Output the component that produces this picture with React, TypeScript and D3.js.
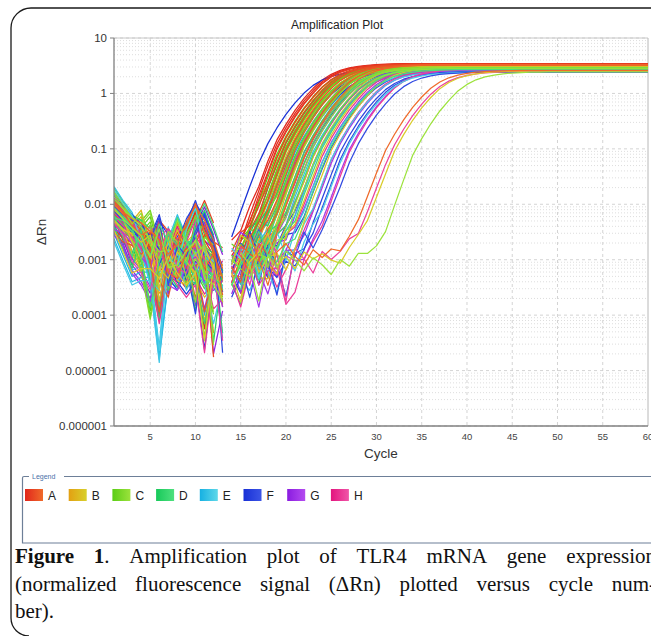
import React, { useEffect, useRef } from 'react';
import * as d3 from 'd3';

// ---------------- data ----------------
const rowNames = ['A', 'B', 'C', 'D', 'E', 'F', 'G', 'H'];
const rowColorsA: [string, string] = ['#e1261c', '#ef6a2a'];
const rowColorsB: [string, string] = ['#e3a012', '#d8d02c'];
const rowColorsC: [string, string] = ['#5acd16', '#9ce23c'];
const rowColorsD: [string, string] = ['#17c95a', '#4fe07e'];
const rowColorsE: [string, string] = ['#16b0e2', '#5fd8e9'];
const rowColorsF: [string, string] = ['#1830d6', '#3c55e6'];
const rowColorsG: [string, string] = ['#8a1be0', '#b44cf0'];
const rowColorsH: [string, string] = ['#e3147e', '#f055a8'];

// cycle at which each well crosses dRn = 0.1 (null = no amplification drawn)
const ctA = [18.6, 18.8, 19.0, 19.1, 19.4, 19.7, 20.1, 20.5, 21.1, 21.7, 22.4, 30.8];
const ctB = [19.4, 19.9, 20.3, 20.8, 21.3, 21.9, 22.6, 23.3, 24.1, 25.0, 31.8, null];
const ctC = [19.2, 19.5, 19.8, 20.1, 20.5, 20.9, 21.3, 21.7, 22.2, 22.8, 23.5, 34.0];
const ctD = [19.6, 20.0, 20.4, 20.8, 21.2, 21.6, 22.0, 22.5, 23.1, 23.8, 24.6, null];
const ctE = [20.2, 20.9, 21.5, 22.1, 22.8, 23.5, 24.3, 25.2, 26.3, null, null, null];
const ctF = [17.4, 20.5, 21.4, 22.4, 23.4, 24.6, 25.8, 26.2, 27.3, null, null, null];
const ctG = [20.6, 21.3, 22.0, 22.7, 23.5, 24.4, 25.4, 26.8, null, null, null, null];
const ctH = [19.8, 20.6, 21.4, 22.3, 23.2, 24.2, 25.3, 27.0, 31.4, null, null, null];

// plateau dRn of each well
const platA = [3.45, 3.4, 3.38, 3.42, 3.35, 3.3, 3.36, 3.28, 3.32, 3.25, 3.3, 2.6];
const platB = [3.25, 3.2, 3.15, 3.22, 3.1, 3.18, 3.05, 3.12, 3.0, 2.95, 2.55, 3.0];
const platC = [3.1, 3.05, 3.0, 3.08, 2.95, 3.02, 2.9, 2.98, 2.85, 2.92, 2.8, 2.45];
const platD = [3.0, 2.95, 2.9, 2.98, 2.85, 2.92, 2.8, 2.88, 2.75, 2.82, 2.7, 2.7];
const platE = [2.6, 2.55, 2.5, 2.58, 2.45, 2.52, 2.45, 2.5, 2.42, 2.5, 2.5, 2.5];
const platF = [2.62, 2.55, 2.5, 2.58, 2.45, 2.52, 2.45, 2.5, 2.42, 2.5, 2.5, 2.5];
const platG = [2.8, 2.75, 2.7, 2.78, 2.65, 2.72, 2.6, 2.68, 2.6, 2.6, 2.6, 2.6];
const platH = [2.9, 2.85, 2.8, 2.88, 2.75, 2.82, 2.7, 2.78, 2.5, 2.6, 2.6, 2.6];

// amplification shape: dRn at cycles -8..17 from the 0.1 crossing
const profileStart = -8;
const profileValues = [0.00002, 0.00006, 0.00018, 0.00052, 0.0015, 0.0042, 0.0125, 0.036, 0.1, 0.2, 0.37, 0.63, 0.98, 1.45, 1.9, 2.3, 2.6, 2.8, 2.95, 3.05, 3.1, 3.15, 3.18, 3.2, 3.2, 3.2];
const profilePlateau = 3.2;

// baseline noise patterns, cycles 1..30, in units of 1e-4 dRn (negative = below zero, not drawn)
const noiseP0 = [95, 60, 42, 30, 12, 40, 9, 7, 30, 75, 12, 8, -15, 14, 9, 22, 4, 12, 28, 9, 3, 11, 18, 8, 10, 7, 12, 9, 6, 8];
const noiseP1 = [70, 48, 18, 9, 22, 2.5, 3, 16, 10, 28, 60, 18, 5, -15, 6, 11, 30, 8, 2, 12, 9, 25, 7, 10, 13, 8, 6, 11, 9, 7];
const noiseP2 = [150, 85, 50, 38, 60, 15, 30, 6, 5, 18, 9, 6, 0.3, -15, 12, 3, 15, 24, 11, 1.5, 14, 9, 5, 12, 8, 10, 14, 7, 9, 11];
const noiseP3 = [55, 22, 10, 30, 6, 1.2, 9, 20, 35, 90, 28, 14, 2, -15, 15, 9, 2, 13, 8, 16, 11, 7, 12, 9, 6, 11, 8, 13, 10, 7];
const noiseP4 = [160, 90, 55, 20, 5, 0.2, 4, 12, 8, 5, 15, 6, -15, 7, 24, 18, 5, 9, 10, 1.5, 1.5, 8, 12, 6, 9, 12, 7, 10, 8, 9];
const noiseP5 = [80, 55, 45, 35, 20, 50, 28, 18, 4, 9, 5, 1, -15, 3, 8, 16, 12, 1.2, 14, 9, 20, 6, 9, 14, 10, 7, 11, 8, 12, 10];
const noiseP6 = [40, 25, 8, 5, 2.5, 12, 25, 16, 7, 40, 90, 35, 12, -15, 2.5, 10, 6, 20, 9, 15, 3, 11, 4, 9, 13, 10, 6, 9, 11, 8];
const noiseP7 = [100, 70, 35, 22, 8, 1, 5, 4, 12, 16, 6, 11, 4, -15, 10, 4, 14, 2, 1.5, 9, 13, 8, 11, 7, 10, 14, 9, 6, 10, 12];
const noiseP8 = [45, 30, 26, 18, 24, 6, 10, 5, 3, 5, 0.3, 7, -15, 5, 1.5, 8, 12, 26, 7, 10, 6, 12, 9, 11, 8, 6, 10, 12, 8, 9];
const noiseP9 = [130, 75, 38, 60, 16, 9, 13, 45, 18, 11, 16, 0.25, -15, 9, 6, 4, 10, 7, 13, 2, 16, 10, 6, 11, 9, 13, 8, 10, 7, 12];
const noiseP10 = [75, 52, 33, 9, 1.2, 8, 18, 50, 20, 6, 3, 5, -15, 3, 7, 12, 28, 10, 6, 11, 4, 1.3, 10, 13, 7, 9, 12, 8, 11, 9];
const noiseP11 = [90, 62, 48, 40, 28, 20, 11, 16, 42, 80, 45, 20, 6, -15, 4, 25, 9, 3, 12, 17, 10, 7, 13, 9, 12, 8, 10, 9, 11, 7];
const noiseP12 = [30, 12, 5, 6, 6, 4, 8, 9, 14, 6, 1, 5, -15, 6, 2, 9, 14, 11, 3, 5, 9, 12, 8, 6, 10, 11, 7, 12, 9, 10];
const noiseP13 = [110, 72, 50, 34, 20, 12, 22, 6, 9, 20, 12, 7, 1.5, -15, 11, 8, 13, 6, 1, 14, 7, 9, 12, 10, 7, 9, 13, 10, 8, 11];
const noiseP14 = [50, 44, 28, 16, 10, 38, 7, 4, 10, 1.5, 22, 16, -15, 8, 16, 9, 5, 1.2, 9, 12, 15, 8, 6, 12, 9, 7, 11, 9, 12, 8];
const noiseP15 = [85, 58, 36, 24, 30, 20, 8, 9, 16, 24, 5, 4, 3, -15, 9, 13, 2.5, 10, 15, 7, 11, 14, 9, 7, 12, 10, 8, 11, 9, 10];
const noiseScales = [1, 0.8, 1.3, 0.7, 1.15, 0.9];

const xTicks = [5, 10, 15, 20, 25, 30, 35, 40, 45, 50, 55, 60];
const yTicks = [0.000001, 0.00001, 0.0001, 0.001, 0.01, 0.1, 1, 10];
const yTickLabels = ['0.000001', '0.00001', '0.0001', '0.001', '0.01', '0.1', '1', '10'];

const captionLine1 = [
  [{ t: 'Figure', b: true }],
  [{ t: '1', b: true }, { t: '.', b: false }],
  [{ t: 'Amplification', b: false }],
  [{ t: 'plot', b: false }],
  [{ t: 'of', b: false }],
  [{ t: 'TLR4', b: false }],
  [{ t: 'mRNA', b: false }],
  [{ t: 'gene', b: false }],
  [{ t: 'expression', b: false }],
];
const captionLine2 = ['(normalized', 'fluorescence', 'signal', '(ΔRn)', 'plotted', 'versus', 'cycle', 'num-'].map((t) => [{ t, b: false }]);
const captionLine3 = [[{ t: 'ber).', b: false }]];

// ---------------- layout ----------------
const W = 651;
const H = 636;
const PL = 114, PR = 648, PT = 38, PB = 426;
const SANS = "'Liberation Sans', Arial, Helvetica, sans-serif";
const SERIF = "'Liberation Serif', 'Times New Roman', Times, serif";

const cycles = d3.range(1, 61);
const ctRows = [ctA, ctB, ctC, ctD, ctE, ctF, ctG, ctH];
const platRows = [platA, platB, platC, platD, platE, platF, platG, platH];
const colorRows = [rowColorsA, rowColorsB, rowColorsC, rowColorsD, rowColorsE, rowColorsF, rowColorsG, rowColorsH];
const noisePatterns = [noiseP0, noiseP1, noiseP2, noiseP3, noiseP4, noiseP5, noiseP6, noiseP7, noiseP8, noiseP9, noiseP10, noiseP11, noiseP12, noiseP13, noiseP14, noiseP15];

function amp(c: number, ct: number, plat: number) {
  const k = c - ct - profileStart;
  const n = profileValues.length;
  let v: number;
  if (k < 0) return 0;
  if (k >= n - 1) v = profileValues[n - 1];
  else {
    const i = Math.floor(k);
    const f = k - i;
    const a = Math.log10(profileValues[i]);
    const b = Math.log10(profileValues[i + 1]);
    v = Math.pow(10, a + (b - a) * f);
  }
  return (v * plat) / profilePlateau;
}

type Well = { id: string; color: string; values: { c: number; v: number }[] };

function buildWells(): Well[] {
  const wells: Well[] = [];
  let idx = 0;
  for (let col = 0; col < 12; col++) {
    for (let r = 0; r < 8; r++) {
      const ct = ctRows[r][col];
      if (ct == null) continue;
      const plat = platRows[r][col];
      const color = d3.interpolateRgb(colorRows[r][0], colorRows[r][1])(col / 11);
      const p1 = idx % 16;
      const k = Math.floor(idx / 16);
      const pA = noisePatterns[p1];
      const pB = noisePatterns[(p1 + k * 3) % 16];
      const pC = noisePatterns[(p1 + k * 7) % 16];
      const sc = noiseScales[k % noiseScales.length];
      const values = cycles.map((c) => {
        let nz = 0;
        if (c <= 30) {
          const src = c <= 6 ? pA : c <= 12 ? pB : pC;
          nz = src[c - 1] * sc * 1e-4;
        }
        return { c, v: amp(c, ct, plat) + nz };
      });
      wells.push({ id: rowNames[r] + (col + 1), color, values });
      idx++;
    }
  }
  return wells;
}

export default function App() {
  const capRef = useRef<SVGGElement>(null);
  const x = d3.scaleLinear().domain([1, 60]).range([PL, PR]);
  const y = d3.scaleLog().domain([1e-6, 10]).range([PB, PT]);
  const wells = buildWells();
  const line = d3
    .line<{ c: number; v: number }>()
    .defined((d) => d.v > 0)
    .x((d) => x(d.c))
    .y((d) => y(d.v));

  const minor: number[] = [];
  for (let e = -6; e < 1; e++) for (let m = 2; m <= 9; m++) minor.push(m * Math.pow(10, e));

  useEffect(() => {
    const g = d3.select(capRef.current);
    g.selectAll('*').remove();
    const lines = [captionLine1, captionLine2, captionLine3];
    const baselines = [563, 591, 618];
    const left = 15;
    const right = 656;
    lines.forEach((words, li) => {
      const nodes = words.map((word) => {
        const t = g
          .append('text')
          .attr('y', baselines[li])
          .attr('font-family', SERIF)
          .attr('font-size', 21)
          .attr('fill', '#111');
        word.forEach((seg) => t.append('tspan').attr('font-weight', seg.b ? 'bold' : 'normal').text(seg.t));
        return t;
      });
      const widths = nodes.map((n) => (n.node() as SVGTextElement).getComputedTextLength());
      const total = d3.sum(widths);
      const gap = nodes.length > 1 ? (right - left - total) / (nodes.length - 1) : 0;
      let cx = left;
      nodes.forEach((n, i) => {
        n.attr('x', cx);
        cx += widths[i] + gap;
      });
    });
  }, []);

  return (
    <svg width={W} height={H} style={{ position: 'absolute', left: 0, top: 0, background: '#fff' }}>
      <defs>
        <clipPath id="plotclip">
          <rect x={PL} y={PT} width={PR - PL} height={PB - PT} />
        </clipPath>
        {colorRows.map((c, i) => (
          <linearGradient key={i} id={'lg' + i} x1="0" x2="1" y1="0" y2="0">
            <stop offset="0" stopColor={c[0]} />
            <stop offset="1" stopColor={c[1]} />
          </linearGradient>
        ))}
      </defs>
      <rect x={0} y={0} width={W} height={H} fill="#fff" />
      {/* outer rounded frame */}
      <path d="M 700 8 H 31 A 20 20 0 0 0 11 28 V 618 A 18 18 0 0 0 29 636" fill="none" stroke="#1a1a1a" strokeWidth={1.3} />

      {/* title */}
      <text x={337} y={29} textAnchor="middle" fontFamily={SANS} fontSize={12} fill="#222">
        Amplification Plot
      </text>

      {/* grid */}
      <g>
        {minor.map((v) => (
          <line key={'m' + v} x1={PL} x2={PR} y1={y(v)} y2={y(v)} stroke="#d6d6d6" strokeWidth={0.8} strokeDasharray="1,2" />
        ))}
        {yTicks.map((v) => (
          <line key={'M' + v} x1={PL} x2={PR} y1={y(v)} y2={y(v)} stroke="#cfcfcf" strokeWidth={0.9} strokeDasharray="3,3" />
        ))}
        {xTicks.filter((t) => t < 60).map((t) => (
          <line key={'v' + t} x1={x(t)} x2={x(t)} y1={PT} y2={PB} stroke="#cfcfcf" strokeWidth={0.9} strokeDasharray="3,3" />
        ))}
      </g>
      {/* plot frame */}
      <line x1={PL} x2={PR} y1={PT} y2={PT} stroke="#c8c8c8" strokeWidth={1} />
      <line x1={PR} x2={PR} y1={PT} y2={PB} stroke="#b8b8b8" strokeWidth={1} />

      {/* curves */}
      <g clipPath="url(#plotclip)">
        {wells.map((w) => (
          <path key={w.id} d={line(w.values) || ''} fill="none" stroke={w.color} strokeWidth={1.25} strokeLinejoin="round" />
        ))}
      </g>

      {/* axes */}
      <line x1={PL} x2={PL} y1={PT} y2={PB} stroke="#808080" strokeWidth={1.3} />
      <line x1={PL} x2={PR} y1={PB} y2={PB} stroke="#808080" strokeWidth={1.3} />
      {yTicks.map((v, i) => (
        <g key={'yt' + v}>
          <line x1={PL - 4} x2={PL} y1={y(v)} y2={y(v)} stroke="#808080" strokeWidth={1} />
          <text x={107} y={y(v)} dy="0.35em" textAnchor="end" fontFamily={SANS} fontSize={11.5} fill="#333">
            {yTickLabels[i]}
          </text>
        </g>
      ))}
      {xTicks.map((t) => (
        <text key={'xt' + t} x={x(t)} y={440} textAnchor="middle" fontFamily={SANS} fontSize={9.5} fill="#444">
          {t}
        </text>
      ))}
      <text x={381} y={458} textAnchor="middle" fontFamily={SANS} fontSize={13.5} fill="#333">
        Cycle
      </text>
      <text transform="translate(46,232) rotate(-90)" textAnchor="middle" fontFamily={SANS} fontSize={13.5} fill="#333">
        ΔRn
      </text>

      {/* legend */}
      <path d="M 29 476.5 H 24 Q 22.5 476.5 22.5 478 V 543 H 700" fill="none" stroke="#6d7f98" strokeWidth={1.2} />
      <line x1={64} x2={700} y1={476.5} y2={476.5} stroke="#6d7f98" strokeWidth={1.2} />
      <text x={32} y={479} fontFamily={SANS} fontSize={7} fill="#4a6fa8">
        Legend
      </text>
      {rowNames.map((r, i) => {
        const sx = 25 + i * 43.7;
        return (
          <g key={'lg' + r}>
            <rect x={sx} y={489} width={18} height={12} fill={`url(#lg${i})`} />
            <text x={sx + 23} y={499.5} fontFamily={SANS} fontSize={12} fill="#222">
              {r}
            </text>
          </g>
        );
      })}

      {/* caption */}
      <g ref={capRef} />
    </svg>
  );
}
